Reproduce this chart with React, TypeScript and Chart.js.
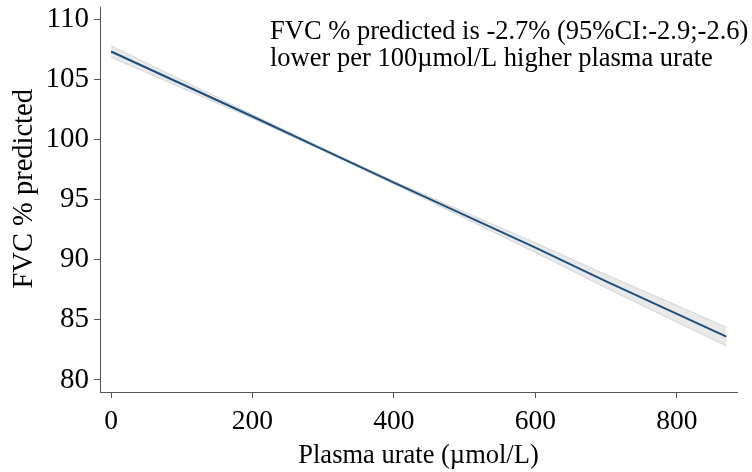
import React, { useEffect, useRef } from "react";
import { Chart, registerables } from "chart.js";

Chart.register(...registerables);

const urate = [0, 100, 200, 300, 400, 500, 600, 700, 800, 870];
const fvcFit = [107.3, 104.6, 101.9, 99.15, 96.4, 93.7, 91.0, 88.2, 85.5, 83.6];
const fvcLower = [106.82, 104.28, 101.73, 99.06, 96.28, 93.45, 90.6, 87.65, 84.8, 82.82];
const fvcUpper = [107.78, 104.92, 102.07, 99.24, 96.52, 93.95, 91.4, 88.75, 86.2, 84.38];
const xTicks = [0, 200, 400, 600, 800];
const yTicks = [80, 85, 90, 95, 100, 105, 110];
const annotationLines = [
  "FVC % predicted is -2.7% (95%CI:-2.9;-2.6)",
  "lower per 100\u00b5mol/L higher plasma urate",
];

const FONT = '"Liberation Serif", "Times New Roman", serif';

const annotationPlugin = {
  id: "annot",
  afterDraw(chart: any) {
    const ctx = chart.ctx;
    ctx.save();
    ctx.font = `26.5px ${FONT}`;
    ctx.fillStyle = "#000";
    ctx.textAlign = "left";
    ctx.textBaseline = "alphabetic";
    ctx.fillText(annotationLines[0], 270, 39);
    ctx.fillText(annotationLines[1], 270, 66);
    ctx.restore();
  },
};

export default function App() {
  const ref = useRef<HTMLCanvasElement | null>(null);
  useEffect(() => {
    if (!ref.current) return;
    const pts = (ys: number[]) => urate.map((x, i) => ({ x, y: ys[i] }));
    const chart = new Chart(ref.current, {
      type: "line",
      data: {
        datasets: [
          {
            data: pts(fvcFit),
            borderColor: "#1d4f7c",
            borderWidth: 2,
            pointRadius: 0,
            fill: false,
            order: 0,
          },
          {
            data: pts(fvcLower),
            borderColor: "#d4d4d4",
            borderWidth: 1,
            pointRadius: 0,
            fill: false,
            order: 1,
          },
          {
            data: pts(fvcUpper),
            borderColor: "#d4d4d4",
            borderWidth: 1,
            pointRadius: 0,
            backgroundColor: "#e9e9e9",
            fill: "-1",
            order: 1,
          },
        ],
      },
      options: {
        responsive: false,
        animation: false,
        layout: { padding: { top: 7, right: 15, left: 0, bottom: 0 } },
        plugins: { legend: { display: false }, tooltip: { enabled: false } },
        scales: {
          x: {
            type: "linear",
            min: -15.6,
            max: 885,
            afterFit: (s: any) => {
              s.height = 80;
              s.paddingLeft = 0;
              s.paddingRight = 0;
            },
            afterBuildTicks: (s: any) => {
              s.ticks = xTicks.map((v) => ({ value: v }));
            },
            grid: { display: true, drawOnChartArea: false, drawTicks: true, tickLength: 6, color: "#555" },
            border: { display: true, color: "#555", width: 1 },
            ticks: { color: "#000", font: { family: FONT, size: 27.5 }, padding: 7, maxRotation: 0 },
            title: {
              display: true,
              text: "Plasma urate (\u00b5mol/L)",
              color: "#000",
              font: { family: FONT, size: 26.5 },
              padding: { top: 0, bottom: 0 },
            },
          },
          y: {
            type: "linear",
            min: 79,
            max: 111,
            afterFit: (s: any) => {
              s.width = 100;
              s.paddingTop = 0;
              s.paddingBottom = 0;
            },
            afterBuildTicks: (s: any) => {
              s.ticks = yTicks.map((v) => ({ value: v }));
            },
            grid: { display: true, drawOnChartArea: false, drawTicks: true, tickLength: 6, color: "#555" },
            border: { display: true, color: "#555", width: 1 },
            ticks: { color: "#000", font: { family: FONT, size: 29 }, padding: 5 },
            title: {
              display: true,
              text: "   FVC % predicted",
              color: "#000",
              font: { family: FONT, size: 28.5 },
              padding: { top: 7, bottom: 0 },
            },
          },
        },
      },
      plugins: [annotationPlugin],
    });
    return () => chart.destroy();
  }, []);
  return (
    <div style={{ position: "absolute", left: 0, top: 0, width: 752, height: 472, background: "#fff" }}>
      <canvas ref={ref} width={752} height={472} />
    </div>
  );
}
